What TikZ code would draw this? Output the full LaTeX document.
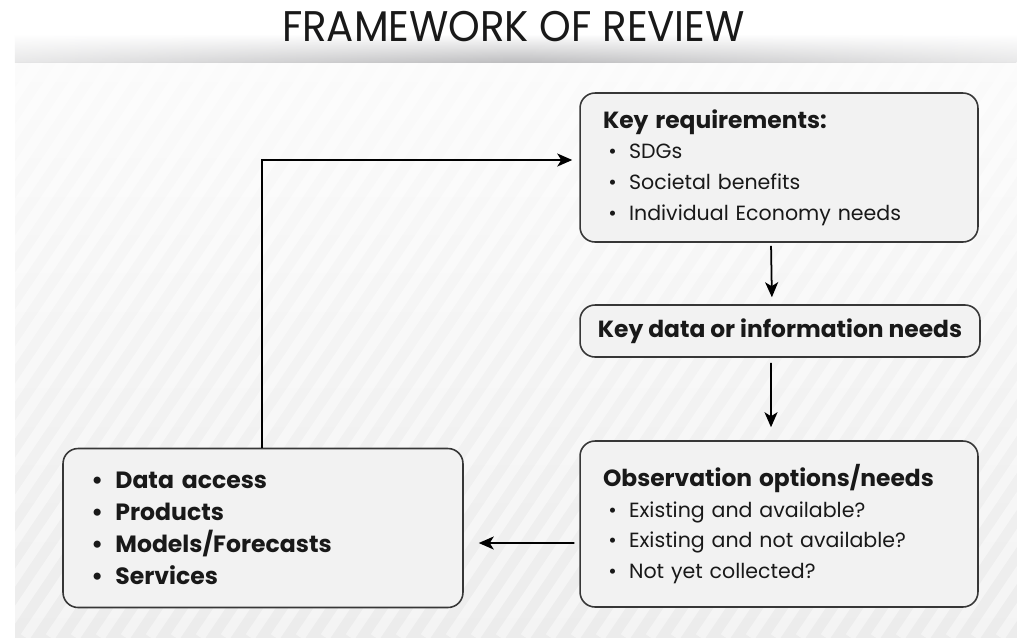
\documentclass[tikz,border=0pt]{standalone}
\usepackage{fontspec}
\setmainfont{Poppins}
\usetikzlibrary{positioning,arrows.meta,calc,fadings}
\definecolor{ink}{RGB}{25,25,25}
\definecolor{boxfill}{RGB}{242,242,242}
\definecolor{boxline}{RGB}{55,55,55}
\definecolor{paper}{RGB}{236,236,236}
\definecolor{paperlight}{RGB}{251,251,251}
\definecolor{shadow}{RGB}{190,190,192}
\newcommand*{\dotitem}{\hspace{3pt}\textbullet\hspace{7pt}}
\tikzfading[name=fade sides, left color=transparent!65, right color=transparent!65,
  middle color=transparent!0]
\tikzset{%
  stage/.style={draw=boxline, line width=0.9pt, fill=boxfill, rounded corners=0.3cm,
    align=left, text=ink, inner xsep=0.46cm, inner ysep=0pt,
    font=\fontsize{11.7}{17.4}\selectfont},% one step of the review
  link/.style={-{Stealth[length=0.3cm, width=0.26cm, inset=0.08cm]}, line width=1pt, black}
}
\newcommand*{\head}[1]{{\bfseries\fontsize{13.3}{17.4}\selectfont #1}}
\begin{document}
\begin{tikzpicture}[x=0.02cm, y=-0.02cm]
  \useasboundingbox (0,0) rectangle (1017,637);
  % striped backdrop
  \fill[white] (0,0) rectangle (1017,637);
  \shade[top color=paperlight, bottom color=paper] (15,62) rectangle (1017,637);
  \begin{scope}
    \clip (15,62) rectangle (1017,637);
    \foreach \i in {-450,-425,...,1025}
      \draw[white, opacity=0.45, line width=0.2cm] (\i,637) -- ++(430,-637);
  \end{scope}
  % shadow under the title
  \shade[top color=white, bottom color=shadow, path fading=fade sides] (15,34) rectangle (1017,62);
  \node[text=ink, font=\fontsize{24.4}{26}\selectfont, xscale=0.94] (title) at (513.5,27) {FRAMEWORK OF REVIEW};

  % the four steps
  \node[stage, text width=7.04cm, minimum height=2.98cm] (req) at (779,167.5) {%
    \head{Key requirements:}\\
    \dotitem SDGs\\
    \dotitem Societal benefits\\
    \dotitem Individual Economy needs};
  \node[stage, minimum width=8cm, minimum height=1.04cm, inner xsep=0.2cm, align=center] (data) at (780,331) {%
    \head{Key data or information needs}};
  \node[stage, text width=7.04cm, minimum height=3.32cm] (obs) at (779,524) {%
    \head{Observation options/needs}\\
    \dotitem Existing and available?\\
    \dotitem Existing and not available?\\
    \dotitem Not yet collected?};
  \node[stage, text width=7.08cm, minimum height=3.18cm,
        font=\bfseries\fontsize{13.4}{18.2}\selectfont] (out) at (263,528) {%
    \dotitem Data access\\
    \dotitem Products\\
    \dotitem Models/Forecasts\\
    \dotitem Services};

  % links
  \draw[link, shorten <=0.06cm, shorten >=0.14cm] ([xshift=-0.16cm]req.south) -- ([xshift=-0.16cm]data.north);
  \draw[link, shorten <=0.1cm, shorten >=0.26cm] ([xshift=-0.18cm]data.south) -- ([xshift=-0.16cm]obs.north);
  \draw[link, shorten <=0.1cm, shorten >=0.3cm] ([yshift=-0.38cm]obs.west) -- ([yshift=-0.3cm]out.east);
  \draw[link, shorten >=0.14cm] ([xshift=-0.02cm]out.north) |- ([yshift=0.15cm]req.west);
\end{tikzpicture}
\end{document}
